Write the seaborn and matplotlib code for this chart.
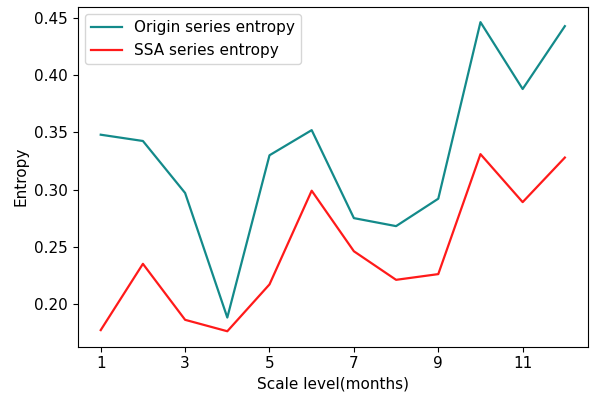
import matplotlib
matplotlib.use("Agg")
import matplotlib.pyplot as plt
import pandas as pd
import seaborn as sns

# Datos
scale_levels = [1, 2, 3, 4, 5, 6, 7, 8, 9, 10, 11, 12]
origin_entropy = [0.348, 0.3425, 0.297, 0.188, 0.330, 0.352, 0.275, 0.268, 0.292, 0.4465, 0.388, 0.443]
ssa_entropy = [0.177, 0.235, 0.186, 0.176, 0.217, 0.299, 0.246, 0.221, 0.226, 0.331, 0.289, 0.328]
x_ticks = [1, 3, 5, 7, 9, 11]

df = pd.DataFrame({
    "scale": scale_levels,
    "origin": origin_entropy,
    "ssa": ssa_entropy,
})

plt.rcParams["font.size"] = 11

fig, ax = plt.subplots(figsize=(5.94, 4.01), dpi=100)
fig.subplots_adjust(left=0.1305, right=0.99, bottom=0.1354, top=0.9833)

sns.lineplot(data=df, x="scale", y="origin", color="#138a8a", linewidth=1.6,
             label="Origin series entropy", ax=ax)
sns.lineplot(data=df, x="scale", y="ssa", color="#ff1a1a", linewidth=1.6,
             label="SSA series entropy", ax=ax)

ax.set_xticks(x_ticks)
ax.set_xlabel("Scale level(months)")
ax.set_ylabel("Entropy")
ax.legend(loc="upper left")

plt.savefig("out.png", dpi=100)
